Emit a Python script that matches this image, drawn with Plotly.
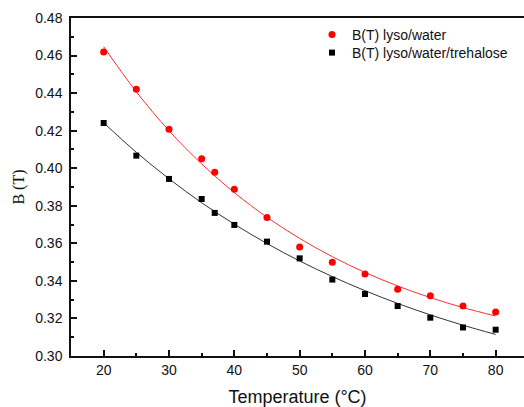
import plotly.graph_objects as go

# Measured points
temp = [20, 25, 30, 35, 37, 40, 45, 50, 55, 60, 65, 70, 75, 80]
b_water = [0.4619, 0.4420, 0.4207, 0.4051, 0.3978, 0.3888, 0.3737, 0.3580,
           0.3499, 0.3437, 0.3355, 0.3321, 0.3266, 0.3234]
b_treh = [0.4241, 0.4067, 0.3943, 0.3836, 0.3762, 0.3698, 0.3609, 0.3520,
          0.3407, 0.3330, 0.3266, 0.3204, 0.3152, 0.3140]

# Fitted curves
fit_temp = [20, 25, 30, 35, 40, 45, 50, 55, 60, 65, 70, 75, 80]
fit_water = [0.4647, 0.4407, 0.4200, 0.4023, 0.3870, 0.3739, 0.3626, 0.3529,
             0.3445, 0.3373, 0.3311, 0.3258, 0.3213]
fit_treh = [0.4242, 0.4085, 0.3944, 0.3816, 0.3702, 0.3599, 0.3506, 0.3423,
            0.3348, 0.3280, 0.3219, 0.3164, 0.3115]

x_ticks = [20, 30, 40, 50, 60, 70, 80]
y_ticks = [0.30, 0.32, 0.34, 0.36, 0.38, 0.40, 0.42, 0.44, 0.46, 0.48]

fig = go.Figure()
fig.add_trace(go.Scatter(x=fit_temp, y=fit_water, mode="lines", line=dict(color="#ff3030", width=1, shape="spline"),
                         showlegend=False, hoverinfo="skip"))
fig.add_trace(go.Scatter(x=fit_temp, y=fit_treh, mode="lines", line=dict(color="#333333", width=1, shape="spline"),
                         showlegend=False, hoverinfo="skip"))
fig.add_trace(go.Scatter(x=temp, y=b_water, mode="markers", name="B(T) lyso/water", legend="legend",
                         marker=dict(symbol="circle", size=7, color="#ff0000")))
fig.add_trace(go.Scatter(x=temp, y=b_treh, mode="markers", name="B(T) lyso/water/trehalose", legend="legend2",
                         marker=dict(symbol="square", size=6, color="#000000")))

font_sans = "Liberation Sans, Arial, sans-serif"
leg_common = dict(x=0.532, xanchor="left", yanchor="middle", bgcolor="rgba(0,0,0,0)",
                  font=dict(size=14, family=font_sans, color="#111111"), itemsizing="trace",
                  borderwidth=0)
# plot area: top 18 px, height 338 px
fig.update_layout(
    width=524, height=407,
    margin=dict(l=71, r=0, t=18, b=51, autoexpand=False),
    paper_bgcolor="white", plot_bgcolor="white",
    font=dict(family=font_sans, size=14, color="#111111"),
    legend=dict(y=1 - (35 - 18) / 338, **leg_common),
    legend2=dict(y=1 - (53 - 18) / 338, **leg_common),
    xaxis=dict(range=[15, 84.34], tickvals=x_ticks, ticks="inside", ticklen=6, tickwidth=1.5,
               tickcolor="#111111", showline=True, linecolor="#111111", linewidth=1.5, mirror=True,
               showgrid=False, zeroline=False, automargin=False,
               minor=dict(dtick=5, tick0=0, ticks="inside", ticklen=3, tickwidth=1.5, tickcolor="#111111"),
               title=dict(text="Temperature (°C)", font=dict(size=18, family=font_sans), standoff=14),
               tickfont=dict(size=14)),
    yaxis=dict(range=[0.30, 0.48], tickvals=y_ticks, tickformat=".2f", ticks="inside", ticklen=6,
               tickwidth=1.5, tickcolor="#111111", showline=True, linecolor="#111111", linewidth=1.5,
               showgrid=False, zeroline=False, automargin=False, ticklabelstandoff=4,
               minor=dict(dtick=0.01, tick0=0, ticks="inside", ticklen=3, tickwidth=1.5, tickcolor="#111111"),
               title=dict(text="B (T)", font=dict(size=16, family="Liberation Serif, Times New Roman, serif"),
                          standoff=7),
               tickfont=dict(size=14)),
)

fig.write_html("out.html", config={"displayModeBar": False},
               post_script="document.body.style.margin='0';document.body.style.overflow='hidden';")
